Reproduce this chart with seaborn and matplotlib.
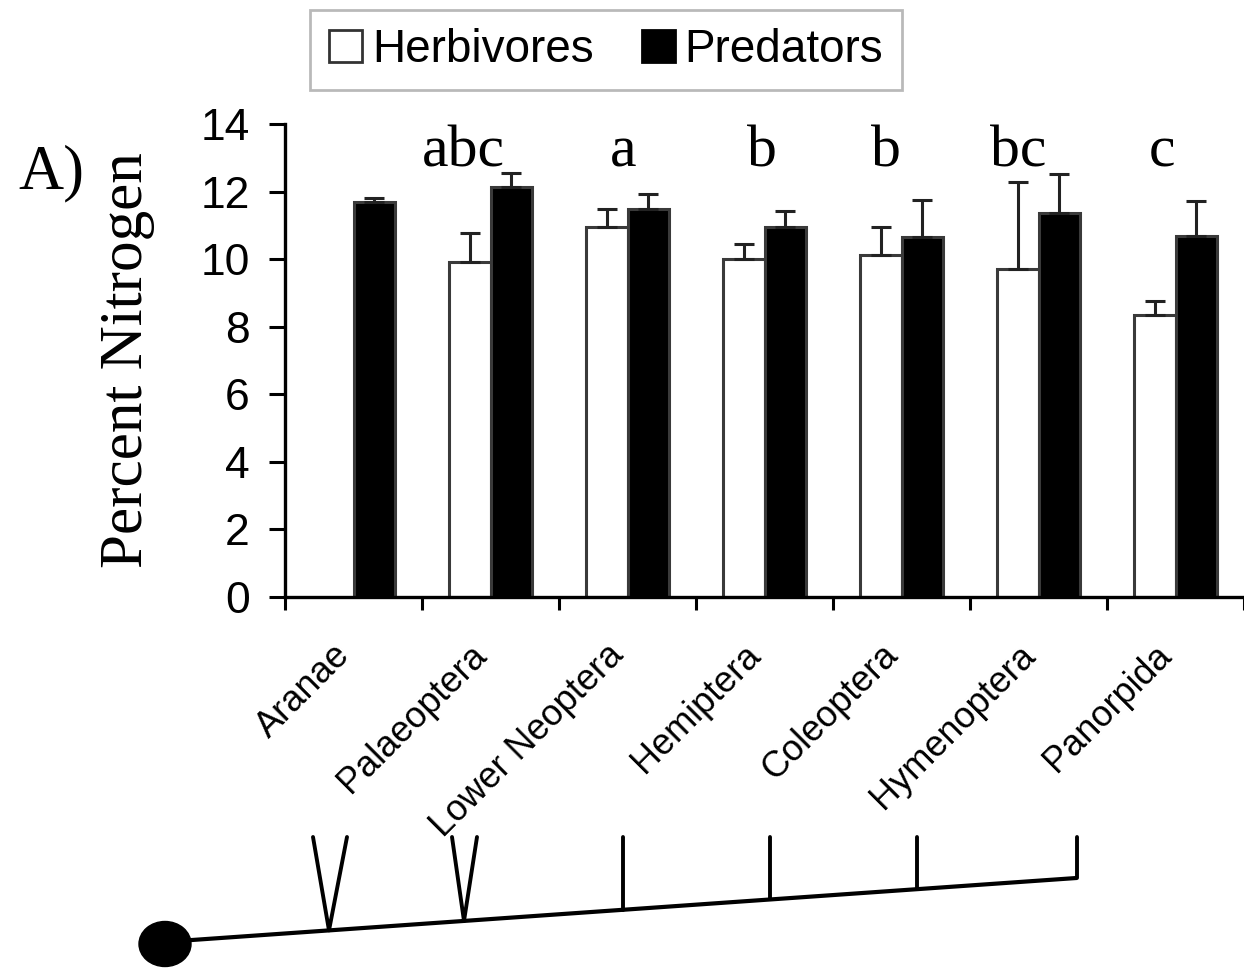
import matplotlib
matplotlib.use("Agg")
import matplotlib.pyplot as plt
from matplotlib.patches import Patch, Ellipse
from matplotlib.transforms import ScaledTranslation
import numpy as np
import pandas as pd
import seaborn as sns

# Percent nitrogen by order and trophic group (mean, upper SE)
orders = ["Aranae", "Palaeoptera", "Lower Neoptera", "Hemiptera",
          "Coleoptera", "Hymenoptera", "Panorpida"]
herbivore_mean = [np.nan, 9.92, 10.96, 9.99, 10.12, 9.72, 8.34]
herbivore_se = [np.nan, 0.84, 0.51, 0.45, 0.84, 2.57, 0.42]
predator_mean = [11.70, 12.14, 11.48, 10.96, 10.66, 11.38, 10.69]
predator_se = [0.12, 0.42, 0.44, 0.46, 1.10, 1.15, 1.03]
group_letters = ["", "abc", "a", "b", "b", "bc", "c"]
groups = ["Herbivores", "Predators"]

rows = []
for i, o in enumerate(orders):
    if not np.isnan(herbivore_mean[i]):
        rows.append({"order": o, "group": "Herbivores",
                     "N": herbivore_mean[i], "se": herbivore_se[i]})
    rows.append({"order": o, "group": "Predators",
                 "N": predator_mean[i], "se": predator_se[i]})
df = pd.DataFrame(rows)

sns.set_style("ticks")
plt.rcParams["font.family"] = ["Liberation Sans", "DejaVu Sans"]
plt.rcParams.update({"text.color": "black", "axes.labelcolor": "black",
                     "xtick.color": "black", "ytick.color": "black",
                     "axes.edgecolor": "black"})

W, H = 1244, 968
fig = plt.figure(figsize=(W / 100, H / 100), dpi=100)
ax = fig.add_axes([285 / W, 1 - 597 / H, (W - 285) / W, (597 - 124) / H])

sns.barplot(data=df, x="order", y="N", hue="group", order=orders,
            hue_order=groups, palette={"Herbivores": "white", "Predators": "black"},
            width=0.6, errorbar=None, edgecolor="#3a3a3a", linewidth=2.2,
            legend=False, ax=ax)

# one-sided (upper) standard-error bars on each drawn bar
se_lookup = {(r.order, r.group): r.se for r in df.itertuples()}
for p in ax.patches:
    h = p.get_height()
    if np.isnan(h) or h == 0:
        continue
    xc = p.get_x() + p.get_width() / 2
    ci = int(round(xc))
    g = groups[0] if xc < ci else groups[1]
    err = se_lookup[(orders[ci], g)]
    ax.errorbar(xc, h, yerr=[[0], [err]], fmt="none", ecolor="#222222",
                elinewidth=2.2, capsize=7.5, capthick=2.2, zorder=5)

# significance letters above each order
letter_shift = [0, -0.2, -0.03, -0.02, -0.11, -0.15, -0.1]
for i, lab in enumerate(group_letters):
    if lab:
        ax.text(i + letter_shift[i], 12.75, lab, ha="center", va="baseline",
                fontsize=43, family=["Liberation Serif", "DejaVu Serif"])

ax.set_ylim(0, 14)
ax.set_xlim(-0.5, 6.46)
ax.set_yticks(range(0, 15, 2))
ax.tick_params(axis="y", length=11.5, width=2.2, pad=14, labelsize=32,
               direction="out", color="black", labelcolor="black")
ax.set_xticks(np.arange(-0.5, 7, 1.0))
ax.set_xticklabels([])
ax.set_xticks(range(len(orders)), minor=True)
ax.set_xticklabels(orders, minor=True)
ax.tick_params(axis="x", which="major", length=9, width=2.2, direction="out",
               color="black")
ax.tick_params(axis="x", which="minor", length=0, pad=38, labelsize=26,
               labelcolor="black")
shift = ScaledTranslation(-9 / 100, 0, fig.dpi_scale_trans)
for t in ax.get_xticklabels(minor=True):
    t.set_rotation(45)
    t.set_ha("right")
    t.set_va("center")
    t.set_rotation_mode("anchor")
    t.set_transform(t.get_transform() + shift)

sns.despine(ax=ax)
for s in ["left", "bottom"]:
    ax.spines[s].set_linewidth(2.4)
    ax.spines[s].set_color("black")

ax.set_xlabel("")
ax.set_ylabel("Percent Nitrogen", fontsize=44, color="black",
              family=["Liberation Serif", "DejaVu Serif"])
ax.yaxis.set_label_coords(-0.1356, 0.5)

fig.text(18 / W, 1 - 188 / H, "A)", fontsize=45, va="baseline", ha="left",
         family=["Liberation Serif", "DejaVu Serif"])

handles = [Patch(facecolor="white", edgecolor="#333333", linewidth=2, label=groups[0]),
           Patch(facecolor="black", edgecolor="black", linewidth=2, label=groups[1])]
leg = fig.legend(handles=handles, loc="center", ncol=2,
                 bbox_to_anchor=(606 / W, 1 - 50 / H), fontsize=33,
                 handlelength=0.72, handleheight=0.72, handletextpad=0.22,
                 columnspacing=1.05, borderpad=0.4, frameon=True, fancybox=False)
leg.get_frame().set_edgecolor("#a8a8a8")
leg.get_frame().set_linewidth(2)
for txt in leg.get_texts():
    txt.set_color("black")

# phylogeny of the orders, drawn in pixel space beneath the chart
tree = fig.add_axes([0, 0, 1, 1], zorder=-1)
tree.set_xlim(0, W)
tree.set_ylim(H, 0)
tree.axis("off")

def stem_y(x):
    return 940 - 0.0701 * (x - 192)

root_x, end_x, top_y = 165, 1077, 837
tree.plot([root_x, end_x], [stem_y(root_x), stem_y(end_x)], color="black",
          lw=3, solid_capstyle="butt")
tree.add_patch(Ellipse((165, 944), 52, 45, color="black"))
forks = [(329, 16, 18), (464, 12, 13)]
for x, dl, dr in forks:
    tree.plot([x - dl, x, x + dr], [top_y, stem_y(x), top_y], color="black", lw=2.8)
for x in [623, 770, 917, 1077]:
    tree.plot([x, x], [top_y, stem_y(x)], color="black", lw=2.8)

fig.savefig("out.png", dpi=100)
